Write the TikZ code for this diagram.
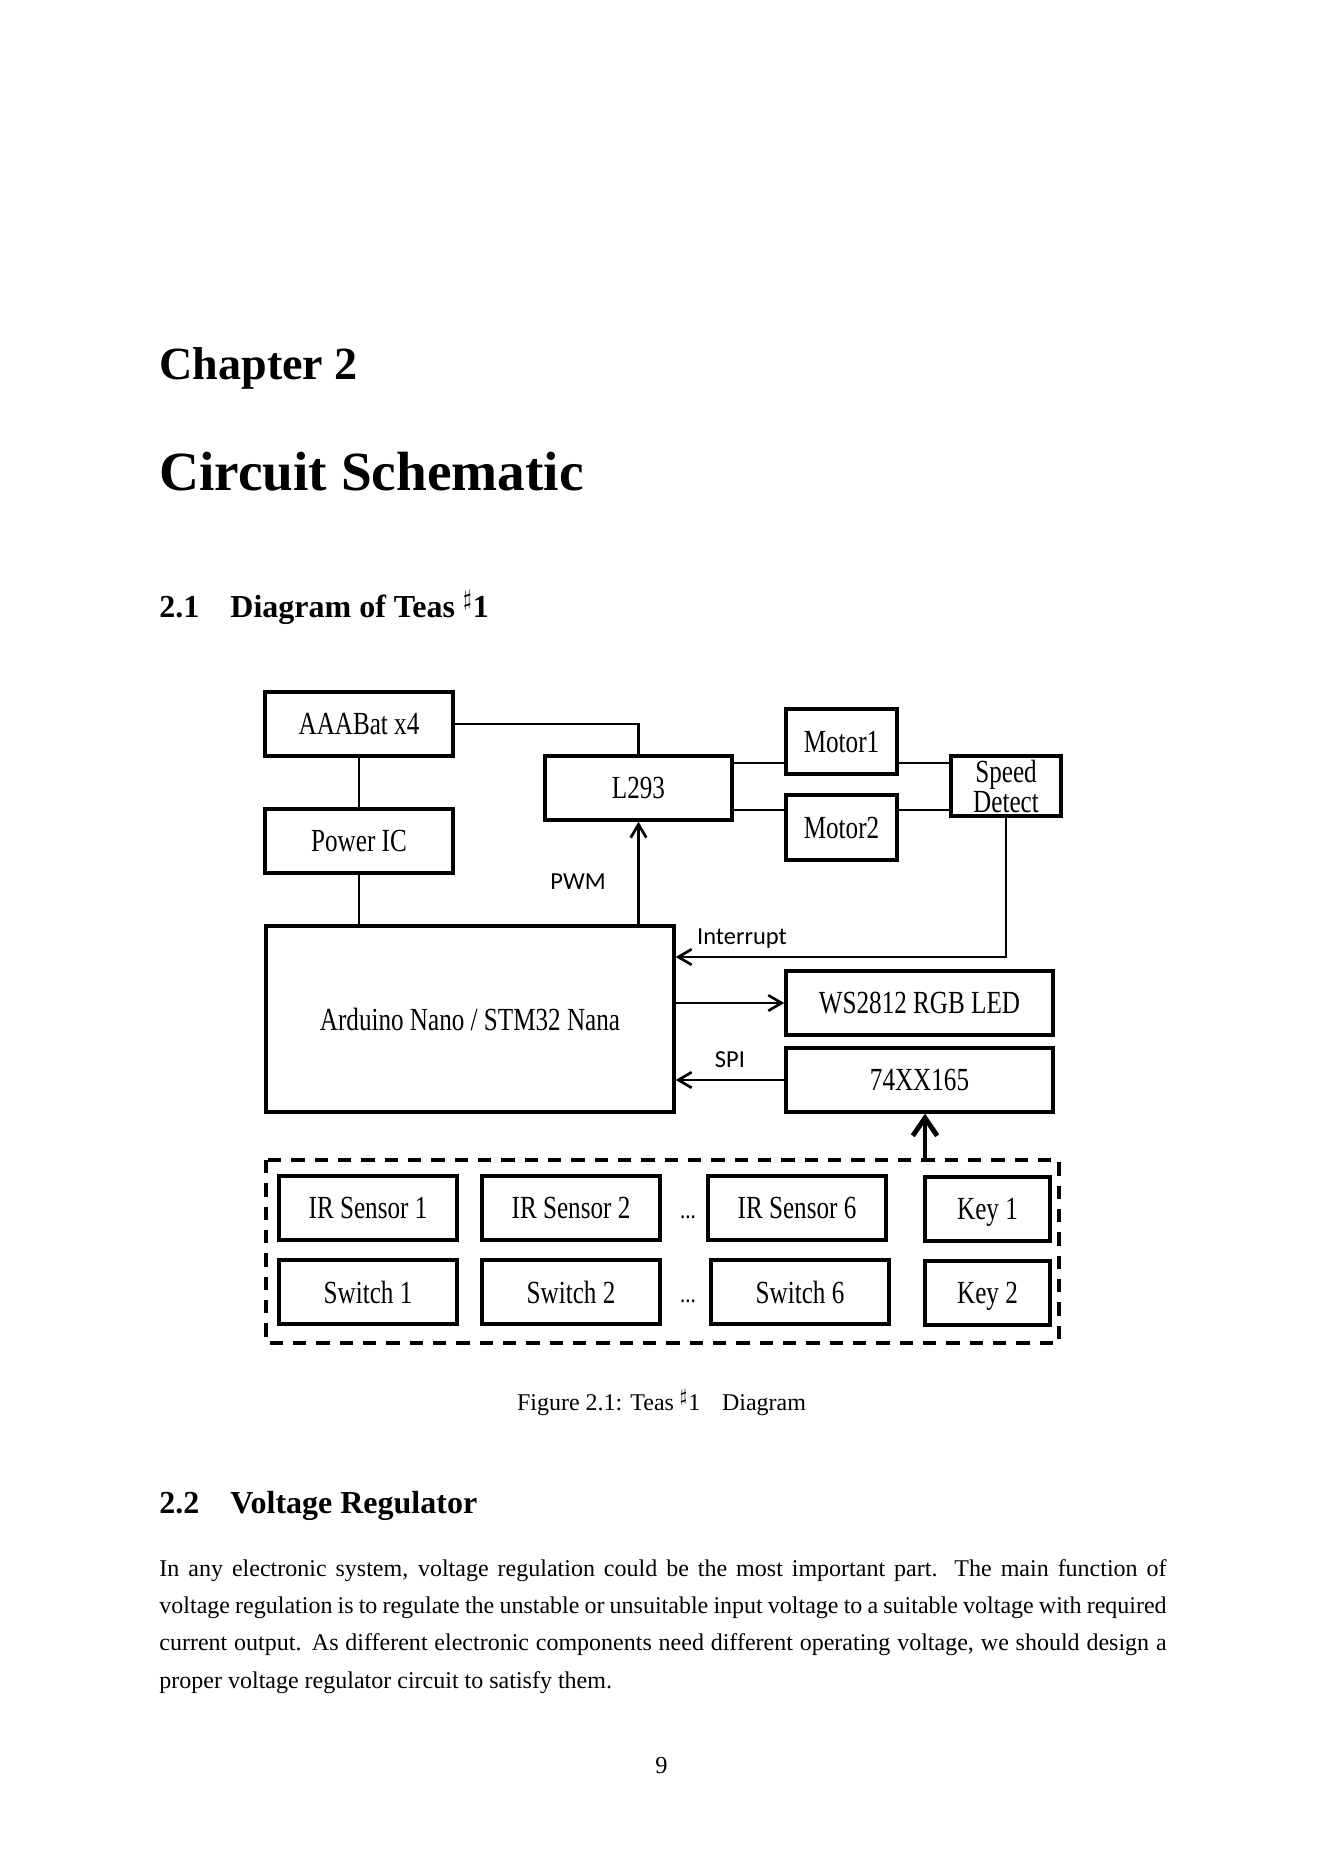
\documentclass[tikz,border=0pt]{standalone}
\usepackage{fontspec}
\setmainfont{Liberation Serif}
\newfontfamily\figfont{Liberation Serif}[FakeStretch=0.78]
\newfontfamily\labfont{Carlito}
\usetikzlibrary{positioning,calc,arrows.meta}

\begin{document}
\begin{tikzpicture}[x=0.45pt,y=-0.45pt,
    blk/.style={draw, line width=1.5pt, align=center, inner sep=0pt, text depth=0pt,
        font=\figfont\fontsize{14.5}{12.2}\selectfont},
    wire/.style={line width=1.2pt},
    thinwire/.style={line width=0.9pt},
    sig/.style={line width=1.2pt, -{Straight Barb[length=6pt,width=7pt]}},
    lab/.style={font=\labfont\fontsize{11}{13}\selectfont},
    txt/.style={anchor=base west, inner sep=0pt}]
    \useasboundingbox (0,0) rectangle (1323,1871);

    % Headings
    \node[txt, font=\fontsize{20.74}{25}\selectfont\bfseries] (chap) at (159,379) {Chapter 2};
    \node[txt, font=\fontsize{24.88}{30}\selectfont\bfseries] (title) at (159,490) {Circuit Schematic};
    \node[txt, font=\fontsize{14.4}{17}\selectfont\bfseries] (secnuma) at (159,617) {2.1};
    \node[txt, font=\fontsize{14.4}{17}\selectfont\bfseries] (seca) at (230,617) {Diagram of Teas $^\sharp$1};

    % Power and motor side
    \node[blk, minimum width=84.6pt, minimum height=28.8pt] (bat) at (359,724) {AAABat x4};
    \node[blk, minimum width=84.6pt, minimum height=28.8pt] (pic) at (359,841) {Power IC};
    \node[blk, minimum width=84.2pt, minimum height=28.8pt] (l293) at (638.5,788) {L293};
    \node[blk, minimum width=50pt, minimum height=29.2pt] (motor1) at (841.5,741.5) {Motor1};
    \node[blk, minimum width=50pt, minimum height=29.2pt] (motor2) at (841.5,827.5) {Motor2};
    \node[blk, minimum width=49.5pt, minimum height=27pt] (speed) at (1006,786) {Speed\\Detect};

    % Controller and peripherals
    \node[blk, minimum width=183.6pt, minimum height=83.7pt] (mcu) at (470,1019) {Arduino Nano / STM32 Nana};
    \node[blk, minimum width=120.2pt, minimum height=28.8pt] (led) at (919.5,1003) {WS2812 RGB LED};
    \node[blk, minimum width=120.2pt, minimum height=28.8pt] (sreg) at (919.5,1080) {74XX165};

    % Inputs
    \draw[line width=1.5pt, dash pattern=on 6pt off 4.5pt] (266,1160) rectangle (1059,1343);
    \node[blk, minimum width=80.1pt, minimum height=28.8pt] (ir1) at (368,1208) {IR Sensor 1};
    \node[blk, minimum width=80.1pt, minimum height=28.8pt] (ir2) at (571,1208) {IR Sensor 2};
    \node[blk, minimum width=80.1pt, minimum height=28.8pt] (ir6) at (797,1208) {IR Sensor 6};
    \node[blk, minimum width=56.2pt, minimum height=28.8pt] (key1) at (987.5,1209) {Key 1};
    \node[blk, minimum width=80.1pt, minimum height=28.8pt] (sw1) at (368,1292) {Switch 1};
    \node[blk, minimum width=80.1pt, minimum height=28.8pt] (sw2) at (571,1292) {Switch 2};
    \node[blk, minimum width=80.1pt, minimum height=28.8pt] (sw6) at (800,1292) {Switch 6};
    \node[blk, minimum width=56.2pt, minimum height=28.8pt] (key2) at (987.5,1293) {Key 2};
    \node[anchor=base, inner sep=0pt, font=\figfont\fontsize{12}{12}\selectfont] (dotsa) at (688,1218) {...};
    \node[anchor=base, inner sep=0pt, font=\figfont\fontsize{12}{12}\selectfont] (dotsb) at (688,1302) {...};

    \coordinate (hiw) at (0,763);
    \coordinate (low) at (0,810);
    \coordinate (irq) at (0,957);
    \coordinate (kin) at (925,1160);

    % Connections
    \draw[wire] (bat.east) -| (l293.north);
    \draw[thinwire] (bat.south) -- (pic.north);
    \draw[thinwire] (pic.south) -- (pic.south |- mcu.north);
    \draw[sig] (l293.south |- mcu.north) -- (l293.south);
    \draw[wire] (l293.east |- hiw) -- (motor1.west |- hiw);
    \draw[wire] (motor1.east |- hiw) -- (speed.west |- hiw);
    \draw[wire] (l293.east |- low) -- (motor2.west |- low);
    \draw[wire] (motor2.east |- low) -- (speed.west |- low);
    \draw[sig] (speed.south) |- (mcu.east |- irq);
    \draw[sig] (mcu.east |- led) -- (led.west);
    \draw[sig] (sreg.west) -- (mcu.east |- sreg);
    \draw[line width=2.2pt, -{Straight Barb[length=8pt,width=11pt]}] (kin) -- (kin |- sreg.south);

    \node[lab] (pwm) at (578,882) {PWM};
    \node[lab] (irqlab) at (742,939) {Interrupt};
    \node[lab] (spilab) at (730,1060) {SPI};

    % Caption and text
    \node[anchor=base, inner sep=0pt, font=\fontsize{10.8}{13}\selectfont] (cap) at (661.5,1410) {Figure 2.1: Teas $^\sharp$1\hspace{0.9em}Diagram};
    \node[txt, font=\fontsize{14.4}{17}\selectfont\bfseries] (secnumb) at (159,1513) {2.2};
    \node[txt, font=\fontsize{14.4}{17}\selectfont\bfseries] (secb) at (230,1513) {Voltage Regulator};
    \node[txt, text width=453.2pt, align=justify, font=\fontsize{10.8}{16.8}\selectfont] (body) at (159,1576)
        {\hyphenpenalty=10000\relax
        In any electronic system, voltage regulation could be the most important part. The main function of\linebreak
        voltage regulation is to regulate the unstable or unsuitable input voltage to a suitable voltage with required\linebreak
        current output. As different electronic components need different operating voltage, we should design a\linebreak
        proper voltage regulator circuit to satisfy them.};
    \node[anchor=base, inner sep=0pt, font=\fontsize{11}{13}\selectfont] (pnum) at (661.5,1773) {9};
\end{tikzpicture}
\end{document}
